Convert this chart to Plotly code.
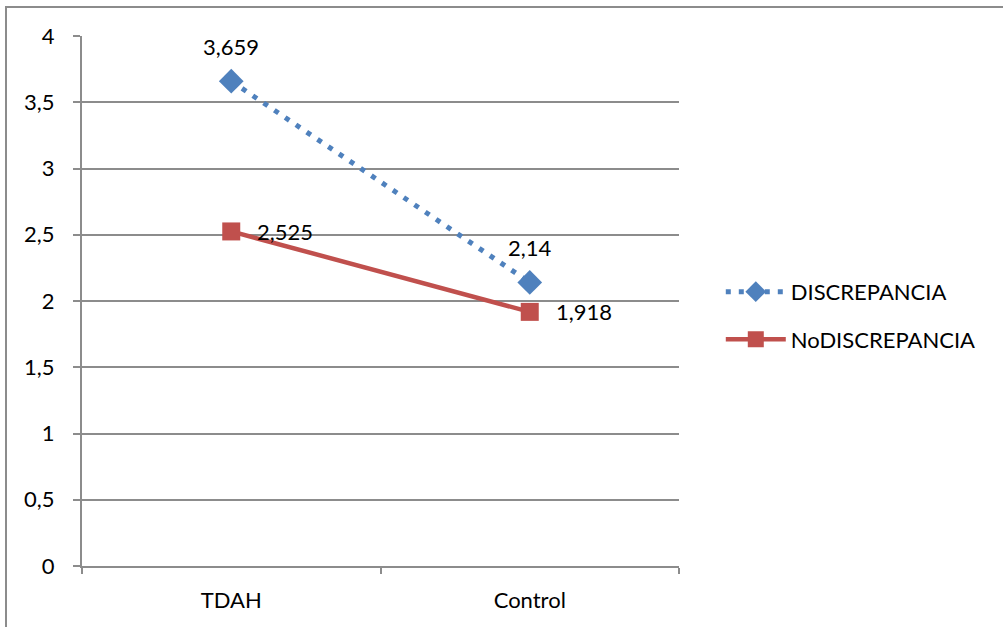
import plotly.graph_objects as go

categories = ["TDAH", "Control"]
discrepancia = [3.659, 2.14]
no_discrepancia = [2.525, 1.918]
y_ticks = [0, 0.5, 1, 1.5, 2, 2.5, 3, 3.5, 4]

BLUE = "#4F81BD"
RED = "#C0504D"
GRID = "#8C8C8C"
FONT = "Lato"
FS = 22


def fmt(v):
    return f"{v:g}".replace(".", ",")


fig = go.Figure()

fig.add_trace(go.Scatter(
    x=categories, y=discrepancia, name="DISCREPANCIA",
    mode="lines+markers",
    line=dict(color=BLUE, width=5, dash="5px,8px"),
    marker=dict(symbol="diamond", size=19, color=BLUE),
    legendgroup="a", cliponaxis=False,
))

fig.add_trace(go.Scatter(
    x=categories, y=no_discrepancia, name="NoDISCREPANCIA",
    mode="lines+markers",
    line=dict(color=RED, width=4.5),
    marker=dict(symbol="square", size=18, color=RED),
    legendgroup="b", cliponaxis=False,
))

# value labels: blue series above its points, red series to the right
annotations = []
for cat, v in zip(categories, discrepancia):
    annotations.append(dict(
        x=cat, y=v, xref="x", yref="y", text=fmt(v), showarrow=False,
        yshift=35, font=dict(family=FONT, size=FS, color="#000000"),
    ))
for cat, v in zip(categories, no_discrepancia):
    annotations.append(dict(
        x=cat, y=v, xref="x", yref="y", text=fmt(v), showarrow=False,
        xanchor="left", xshift=24, font=dict(family=FONT, size=FS, color="#000000"),
    ))

fig.update_layout(
    width=1003, height=627,
    margin=dict(l=82, r=324, t=36, b=61),
    paper_bgcolor="white", plot_bgcolor="white",
    separators=",.",
    font=dict(family=FONT, size=FS, color="#000000"),
    showlegend=True,
    legend=dict(
        x=1.07, y=0.472, xanchor="left", yanchor="middle",
        font=dict(family=FONT, size=FS, color="#000000"),
        tracegroupgap=16, itemwidth=60,
        bgcolor="rgba(0,0,0,0)",
    ),
    xaxis=dict(
        type="category", range=[-0.5, 1.5],
        showgrid=False, showline=True, linecolor=GRID, linewidth=2,
        ticks="outside", tickson="boundaries", ticklen=6, tickcolor=GRID,
        tickwidth=1.5, ticklabelstandoff=14,
        tickfont=dict(family=FONT, size=FS),
        zeroline=False,
    ),
    yaxis=dict(
        range=[0, 4], tickvals=y_ticks,
        showgrid=True, gridcolor=GRID, gridwidth=1.5,
        showline=True, linecolor=GRID, linewidth=2,
        ticks="outside", ticklen=7, tickcolor=GRID, tickwidth=1.5,
        ticklabelstandoff=14,
        tickfont=dict(family=FONT, size=FS),
        zeroline=False,
    ),
    annotations=annotations,
    shapes=[dict(
        type="rect", xref="paper", yref="paper",
        x0=-0.1273, x1=1.56, y0=-0.2, y1=1.0547,
        line=dict(color="#8C8C8C", width=2), fillcolor="rgba(0,0,0,0)",
        layer="below",
    )],
)

fig.write_html("out.html")
